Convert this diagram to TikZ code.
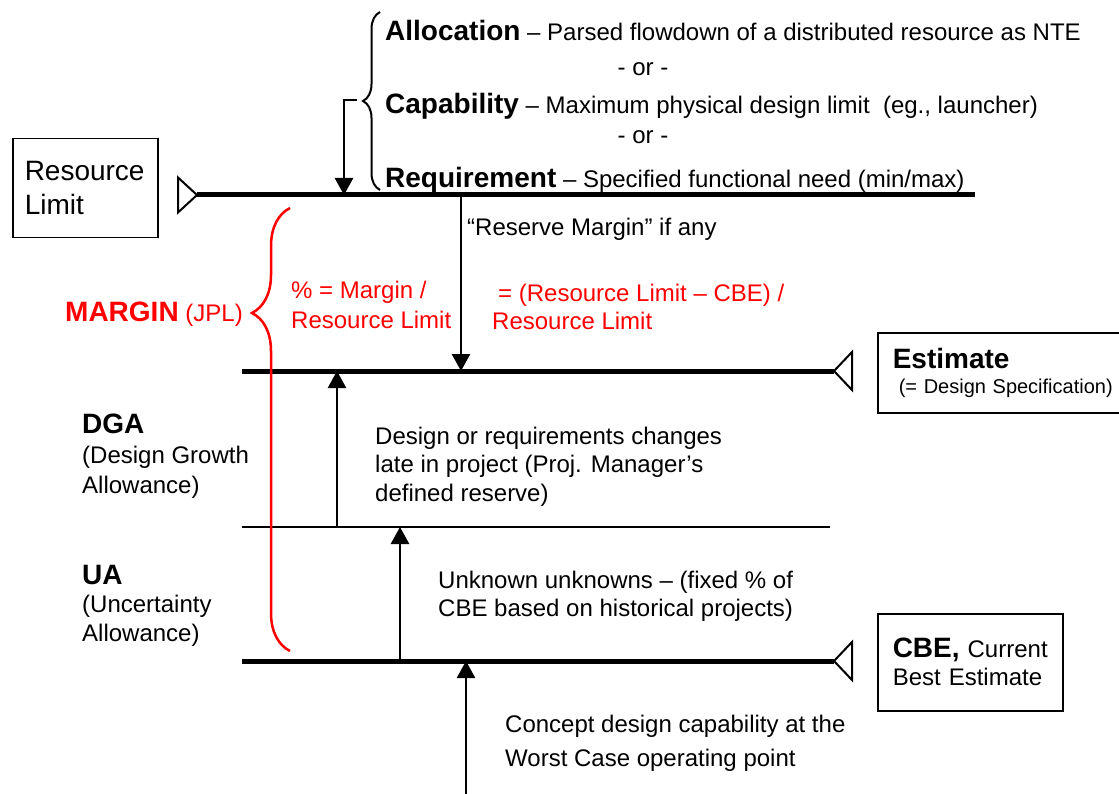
\documentclass[tikz,border=0pt]{standalone}
\usepackage{fontspec}
\setmainfont{Liberation Sans}
\usepackage{xcolor}
\usetikzlibrary{arrows.meta,decorations.pathreplacing}
\definecolor{mgred}{RGB}{255,0,0}
\newcommand{\hd}[1]{{\fontsize{28}{34}\selectfont\bfseries #1}}

\begin{document}
\begin{tikzpicture}[x=1pt,y=-1pt,>={Triangle[length=17pt,width=18pt]},
  txt/.style={anchor=base west,inner sep=0,align=left,font=\fontsize{24}{28.5}\selectfont},
  bx/.style={draw,line width=1.5pt,anchor=north west,inner xsep=15pt,inner ysep=0,align=left},
  lvl/.style={line width=5pt},
  tri/.style={draw,fill=white,line width=2pt,line join=miter},
  arr/.style={->,line width=2.5pt},
  brc/.style={decorate,line width=2pt}]
\useasboundingbox (0,0) rectangle (1119,794);
% boxes
\node[bx,inner xsep=12pt,text width=121pt,minimum height=99pt,font=\fontsize{28}{34}\selectfont] (rlbox) at (12,138) {Resource\\Limit};
\node[bx,text width=230pt,minimum height=80pt,font=\fontsize{20}{25}\selectfont] (estbox) at (877,332) {\hd{Estimate}\\\hspace*{6pt}(= Design Specification)};
\node[bx,text width=155pt,minimum height=97pt,font=\fontsize{24}{28}\selectfont] (cbebox) at (877,613) {\hd{CBE,} Current\\Best Estimate};
% level lines
\coordinate (rl-w) at (197,195); \coordinate (rl-e) at (975,195);
\coordinate (est-w) at (242,371); \coordinate (est-e) at (834,371);
\coordinate (ua-w) at (242,527); \coordinate (ua-e) at (830,527);
\coordinate (cbe-w) at (242,661); \coordinate (cbe-e) at (834,661);
\draw[lvl] (rl-w) -- (rl-e);
\draw[lvl] (est-w) -- (est-e);
\draw[line width=2pt] (ua-w) -- (ua-e);
\draw[lvl] (cbe-w) -- (cbe-e);
\draw[tri] (rl-w) -- ++(-19,-17.5) -- ++(0,35) -- cycle;
\draw[tri] (est-e) -- ++(18,-19) -- ++(0,38) -- cycle;
\draw[tri] (cbe-e) -- ++(18,-19) -- ++(0,38) -- cycle;
% top brace and texts
\draw[brc,decoration={brace,amplitude=17pt}] (380,190) -- (380,12);
\node[txt] (alloc) at (385,41) {\hd{Allocation} -- Parsed flowdown of a distributed resource as NTE};
\node[txt,anchor=base] (or1) at (643,76) {- or -};
\node[txt] (capab) at (385,114) {\hd{Capability} -- Maximum physical design limit\ \ (eg., launcher)};
\node[txt,anchor=base] (or2) at (643,144) {- or -};
\node[txt] (reqmt) at (385,188) {\hd{Requirement} -- Specified functional need (min/max)};
\coordinate (cap-s) at (357,100); \coordinate (cap-t) at (344,195);
\draw[arr] (cap-s) -| (cap-t);
% margin (base of a multi-line node = its last line)
\draw[brc,mgred,line width=2.5pt,decoration={brace,amplitude=38pt,aspect=0.763}] (290,651) -- (290,208);
\node[txt,text=mgred] (mrg) at (65,322) {\hd{MARGIN} (JPL)};
\node[txt,text=mgred,font=\fontsize{24}{30}\selectfont] (pct) at (291,329) {\% = Margin /\\Resource Limit};
\node[txt,text=mgred] (eqn) at (492,330) {\hspace*{6pt}= (Resource Limit -- CBE) /\\Resource Limit};
\coordinate (rsv-s) at (461,195);
\draw[arr] (rsv-s) -- (rsv-s |- est-w);
\node[txt] (rsv) at (467,236) {``Reserve Margin'' if any};
% allowances
\node[txt,font=\fontsize{24}{30}\selectfont] (dga) at (82,493) {\hd{DGA}\\(Design Growth\\Allowance)};
\node[txt] (dsg) at (375,501) {Design or requirements changes\\late in project (Proj. Manager's\\defined reserve)};
\coordinate (dga-s) at (337,527);
\draw[arr] (dga-s) -- (dga-s |- est-w);
\node[txt] (ua) at (82,641) {\hd{UA}\\(Uncertainty\\Allowance)};
\node[txt,font=\fontsize{24}{28}\selectfont] (unk) at (438,616) {Unknown unknowns -- (fixed \% of\\CBE based on historical projects)};
\coordinate (ua-s) at (400,661);
\draw[arr] (ua-s) -- (ua-s |- ua-w);
% concept
\node[txt,font=\fontsize{24}{34}\selectfont] (cpt) at (505,766) {Concept design capability at the\\Worst Case operating point};
\coordinate (cpt-s) at (466,800);
\draw[arr] (cpt-s) -- (cpt-s |- cbe-w);
\end{tikzpicture}
\end{document}
